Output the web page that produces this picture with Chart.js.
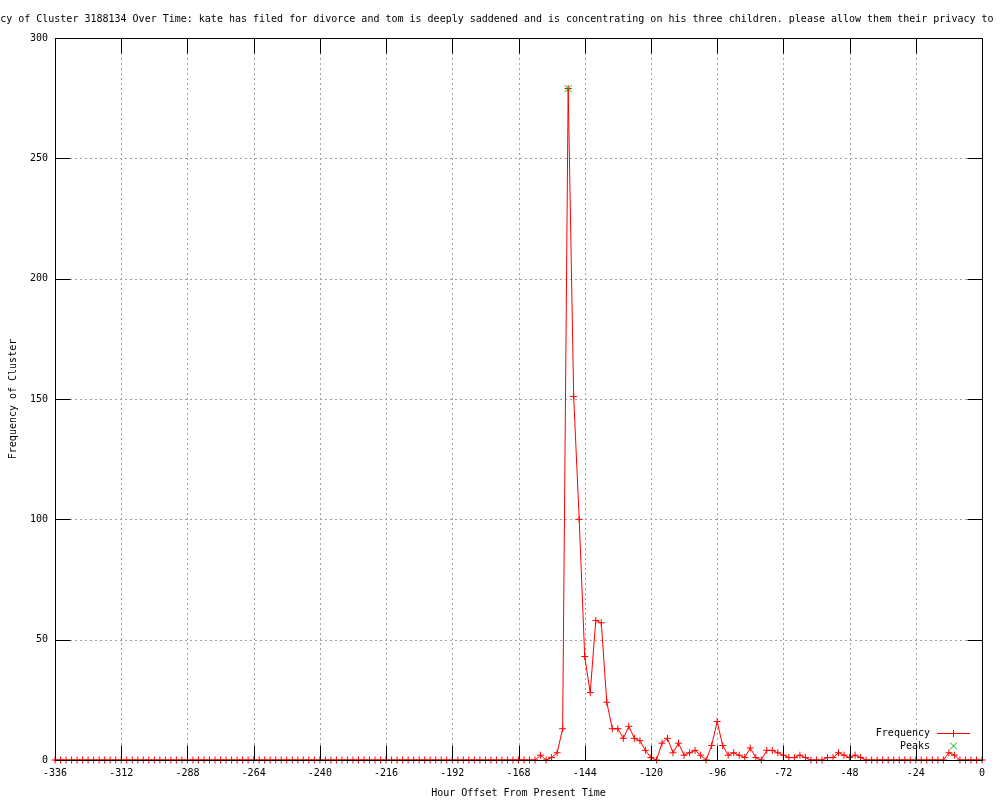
<!DOCTYPE html>
<html>
<head>
<meta charset="utf-8">
<title>Frequency of Cluster 3188134 Over Time</title>
<script src="https://cdn.jsdelivr.net/npm/chart.js@4.4.1/dist/chart.umd.min.js"></script>
<style>
    html, body { margin: 0; padding: 0; background: #ffffff; }
    #chart { display: block; }
</style>
</head>
<body>
<canvas id="chart" width="1000" height="800"></canvas>
<script>
// Hour offsets, one sample every 2 hours (rows of 24h)
const hours = [
    -336, -334, -332, -330, -328, -326, -324, -322, -320, -318, -316, -314,
    -312, -310, -308, -306, -304, -302, -300, -298, -296, -294, -292, -290,
    -288, -286, -284, -282, -280, -278, -276, -274, -272, -270, -268, -266,
    -264, -262, -260, -258, -256, -254, -252, -250, -248, -246, -244, -242,
    -240, -238, -236, -234, -232, -230, -228, -226, -224, -222, -220, -218,
    -216, -214, -212, -210, -208, -206, -204, -202, -200, -198, -196, -194,
    -192, -190, -188, -186, -184, -182, -180, -178, -176, -174, -172, -170,
    -168, -166, -164, -162, -160, -158, -156, -154, -152, -150, -148, -146,
    -144, -142, -140, -138, -136, -134, -132, -130, -128, -126, -124, -122,
    -120, -118, -116, -114, -112, -110, -108, -106, -104, -102, -100, -98,
    -96, -94, -92, -90, -88, -86, -84, -82, -80, -78, -76, -74,
    -72, -70, -68, -66, -64, -62, -60, -58, -56, -54, -52, -50,
    -48, -46, -44, -42, -40, -38, -36, -34, -32, -30, -28, -26,
    -24, -22, -20, -18, -16, -14, -12, -10, -8, -6, -4, -2,
    0
];

// Frequency of the cluster at each hour above
const frequency = [
    0, 0, 0, 0, 0, 0, 0, 0, 0, 0, 0, 0,
    0, 0, 0, 0, 0, 0, 0, 0, 0, 0, 0, 0,
    0, 0, 0, 0, 0, 0, 0, 0, 0, 0, 0, 0,
    0, 0, 0, 0, 0, 0, 0, 0, 0, 0, 0, 0,
    0, 0, 0, 0, 0, 0, 0, 0, 0, 0, 0, 0,
    0, 0, 0, 0, 0, 0, 0, 0, 0, 0, 0, 0,
    0, 0, 0, 0, 0, 0, 0, 0, 0, 0, 0, 0,
    0, 0, 0, 0, 2, 0, 1, 3, 13, 279, 151, 100,
    43, 28, 58, 57, 24, 13, 13, 9, 14, 9, 8, 4,
    1, 0, 7, 9, 3, 7, 2, 3, 4, 2, 0, 6,
    16, 6, 2, 3, 2, 1, 5, 1, 0, 4, 4, 3,
    2, 1, 1, 2, 1, 0, 0, 0, 1, 1, 3, 2,
    1, 2, 1, 0, 0, 0, 0, 0, 0, 0, 0, 0,
    0, 0, 0, 0, 0, 0, 3, 2, 0, 0, 0, 0,
    0
];

// Detected peaks
const peakHours = [-150];
const peakValues = [279];

// Axis ticks
const xTicks = [-336, -312, -288, -264, -240, -216, -192, -168, -144, -120, -96, -72, -48, -24, 0];
const yTicks = [0, 50, 100, 150, 200, 250, 300];

const titleText = 'Frequency of Cluster 3188134 Over Time: kate has filed for divorce and tom is deeply saddened and is concentrating on his three children. please allow them their privacy to u';
const xLabel = 'Hour Offset From Present Time';
const yLabel = 'Frequency of Cluster';

const FAMILY = '"DejaVu Sans Mono", "Liberation Mono", monospace';
const FONT = '10px ' + FAMILY;
const colors = {
    freq: '#ff0000',
    peaks: '#00c000',
    grid: '#a0a0a0',
    axis: '#000000'
};

const toPoints = (xs, ys) => xs.map((x, i) => ({ x: x, y: ys[i] }));
const crisp = (v) => Math.round(v) + 0.5;

// gnuplot style frame: dotted grid, mirrored inward ticks, key, clipped title
const gnuplotFrame = {
    id: 'gnuplotFrame',
    beforeDraw(chart) {
        const ctx = chart.ctx;
        ctx.save();
        ctx.fillStyle = '#ffffff';
        ctx.fillRect(0, 0, chart.width, chart.height);
        ctx.restore();
    },
    beforeDatasetsDraw(chart) {
        const { ctx, chartArea: a, scales: { x, y } } = chart;
        ctx.save();
        ctx.strokeStyle = colors.grid;
        ctx.lineWidth = 1;
        ctx.setLineDash([2, 3]);
        xTicks.slice(1, -1).forEach(v => {
            const px = crisp(x.getPixelForValue(v));
            ctx.beginPath();
            ctx.moveTo(px, a.top);
            ctx.lineTo(px, a.bottom);
            ctx.stroke();
        });
        yTicks.slice(1, -1).forEach(v => {
            const py = crisp(y.getPixelForValue(v));
            ctx.beginPath();
            ctx.moveTo(a.left, py);
            ctx.lineTo(a.right, py);
            ctx.stroke();
        });
        ctx.restore();
    },
    afterDatasetsDraw(chart) {
        const { ctx, chartArea: a, scales: { x, y } } = chart;
        const tick = 15;
        const l = crisp(a.left), r = crisp(a.right), t = crisp(a.top), b = crisp(a.bottom);
        ctx.save();
        ctx.strokeStyle = colors.axis;
        ctx.lineWidth = 1;
        ctx.strokeRect(l, t, r - l, b - t);
        ctx.beginPath();
        xTicks.forEach(v => {
            const px = crisp(x.getPixelForValue(v));
            ctx.moveTo(px, b); ctx.lineTo(px, b - tick);
            ctx.moveTo(px, t); ctx.lineTo(px, t + tick);
        });
        yTicks.forEach(v => {
            const py = crisp(y.getPixelForValue(v));
            ctx.moveTo(l, py); ctx.lineTo(l + tick, py);
            ctx.moveTo(r, py); ctx.lineTo(r - tick, py);
        });
        ctx.stroke();
        ctx.restore();
    },
    afterDraw(chart) {
        const ctx = chart.ctx;
        ctx.save();
        ctx.font = FONT;
        ctx.fillStyle = '#000000';
        ctx.textBaseline = 'middle';

        // title runs off both edges of the canvas, like the original
        ctx.textAlign = 'left';
        ctx.fillText(titleText, -42, 19);

        // key
        ctx.textAlign = 'right';
        ctx.fillText('Frequency', 930, 733);
        ctx.fillText('Peaks', 930, 746);
        ctx.fillStyle = colors.freq;
        ctx.fillRect(937, 733, 33, 1);
        ctx.fillRect(953, 730, 1, 7);
        ctx.strokeStyle = colors.peaks;
        ctx.lineWidth = 1;
        ctx.beginPath();
        ctx.moveTo(950, 742.5); ctx.lineTo(957, 749.5);
        ctx.moveTo(957, 742.5); ctx.lineTo(950, 749.5);
        ctx.stroke();
        ctx.restore();
    }
};

const axisFont = { family: FAMILY, size: 10 };

new Chart(document.getElementById('chart'), {
    type: 'line',
    data: {
        datasets: [
            {
                label: 'Frequency',
                data: toPoints(hours, frequency),
                borderColor: colors.freq,
                backgroundColor: colors.freq,
                borderWidth: 1,
                tension: 0,
                pointStyle: 'cross',
                pointRadius: 3.5,
                pointBorderWidth: 1,
                pointBorderColor: colors.freq,
                clip: false,
                order: 2
            },
            {
                label: 'Peaks',
                data: toPoints(peakHours, peakValues),
                showLine: false,
                borderColor: colors.peaks,
                backgroundColor: colors.peaks,
                pointStyle: 'crossRot',
                pointRadius: 5,
                pointBorderWidth: 1,
                clip: false,
                order: 1
            }
        ]
    },
    options: {
        responsive: false,
        animation: false,
        devicePixelRatio: 1,
        layout: { padding: { top: 38, right: 18, left: 0, bottom: 0 } },
        plugins: {
            legend: { display: false },
            title: { display: false },
            tooltip: { enabled: false }
        },
        scales: {
            x: {
                type: 'linear',
                min: -336,
                max: 0,
                afterFit: (scale) => { scale.height = 40; },
                afterBuildTicks: (scale) => { scale.ticks = xTicks.map(v => ({ value: v })); },
                grid: { display: false, drawTicks: false },
                border: { display: false },
                ticks: { maxRotation: 0, autoSkip: false, padding: 7, color: '#000000', font: axisFont },
                title: { display: true, text: xLabel, color: '#000000', padding: { top: 0, bottom: 1 }, font: axisFont }
            },
            y: {
                type: 'linear',
                min: 0,
                max: 300,
                afterFit: (scale) => { scale.width = 55; },
                afterBuildTicks: (scale) => { scale.ticks = yTicks.map(v => ({ value: v })); },
                grid: { display: false, drawTicks: false },
                border: { display: false },
                ticks: { padding: 7, color: '#000000', font: axisFont },
                title: { display: true, text: yLabel, color: '#000000', padding: { top: 7, bottom: 0 }, font: axisFont }
            }
        }
    },
    plugins: [gnuplotFrame]
});
</script>
</body>
</html>
